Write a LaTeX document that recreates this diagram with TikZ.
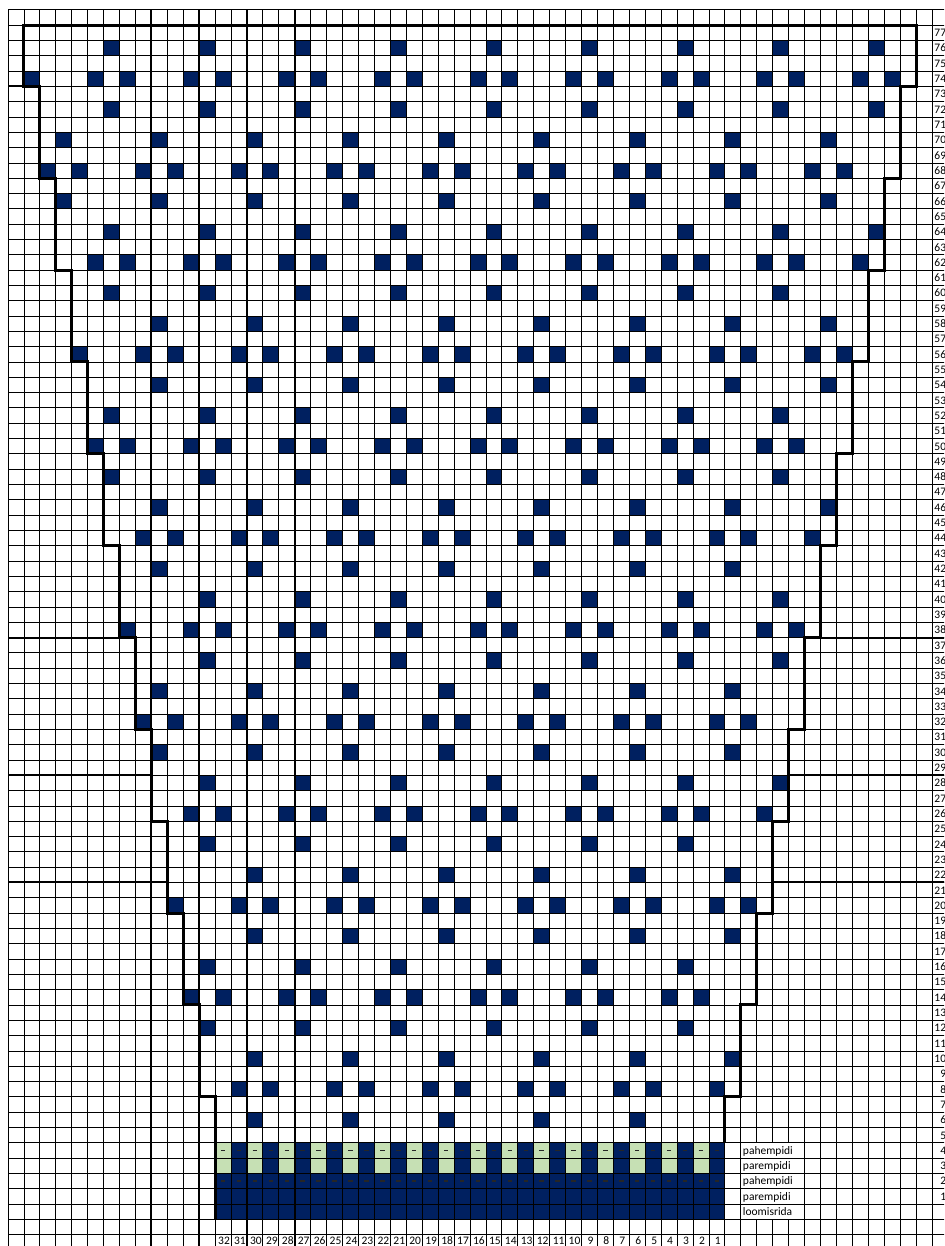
\documentclass[tikz,border=0pt]{standalone}
\usepackage{fontspec}
\setmainfont{Carlito}
\definecolor{navy}{RGB}{0,32,96}
\definecolor{lgreen}{RGB}{198,224,180}
\makeatletter
\def\gridpt@parse#1,#2\@nil{\pgfpointxy{8+15.93*(#1)}{1204-15.31*(#2)}}
\tikzdeclarecoordinatesystem{q}{\gridpt@parse#1\@nil}
\makeatother
\tikzset{
  gridline/.style={black, line width=0.8pt},
  outline/.style={black, line width=3pt, line join=miter},
  thickv/.style={black, line width=1.8pt},
  thickh/.style={black, line width=2pt},
  purl/.style={black!85, line width=1.1pt},
  lbl/.style={font=\fontsize{11.5}{12}\selectfont, inner sep=0pt},
}
\begin{document}
\begin{tikzpicture}[x=1pt,y=-1pt]
\useasboundingbox (0,0) rectangle (944,1246);
\clip (0,0) rectangle (944,1246);
\fill[white] (0,0) rectangle (944,1246);
% pattern cells
\foreach \r in {5,...,77}{
  \pgfmathtruncatemacro\gl{\r<8 ? 13 : 12-floor((\r-8)/6)}
  \pgfmathtruncatemacro\gr{57-\gl}
  \pgfmathtruncatemacro\myR{mod(\r,12)}
  \foreach \g in {\gl,...,\gr}{
    \pgfmathtruncatemacro\myG{mod(\g,6)}
    \pgfmathtruncatemacro\b{((\myR==4 || \myR==0) && \myG==0) || (\myR==2 && (\myG==1 || \myG==5)) || ((\myR==10 || \myR==6) && \myG==3) || (\myR==8 && (\myG==2 || \myG==4))}
    \ifnum\b=1 \fill[navy] (q cs:\g,\r) rectangle (q cs:\g+1,\r-1); \fi
  }
}
% ribbing rows 0-4
\foreach \g in {13,...,44}{
  \fill[navy] (q cs:\g,2) rectangle (q cs:\g+1,-1);
  \pgfmathtruncatemacro\od{mod(\g,2)}
  \ifnum\od=1
    \fill[lgreen] (q cs:\g,4) rectangle (q cs:\g+1,2);
  \else
    \fill[navy] (q cs:\g,4) rectangle (q cs:\g+1,2);
  \fi
  \draw[purl] (q cs:\g+0.36,3.5) -- (q cs:\g+0.64,3.5);
  \draw[purl] (q cs:\g+0.36,1.5) -- (q cs:\g+0.64,1.5);
}
% grid: horizontal lines
\foreach \r in {-2,...,78}{
  \draw[gridline] (q cs:0,\r) -- (q cs:59.5,\r);
}
% grid: vertical lines
\foreach \g in {0,...,46,50,51,...,58}{
  \draw[gridline] (q cs:\g,78) -- (q cs:\g,-3);
}
\foreach \g in {47,48,49}{
  \draw[gridline] (q cs:\g,78) -- (q cs:\g,4);
  \draw[gridline] (q cs:\g,-1) -- (q cs:\g,-3);
}
% thick vertical lines
\foreach \g in {9,12,15,18}{
  \draw[thickv] (q cs:\g,78) -- (q cs:\g,-3);
}
% thick horizontal lines outside the chart
\draw[thickh] (q cs:0,73) -- (q cs:1,73);
\draw[thickh] (q cs:0,37) -- (q cs:7,37);
\draw[thickh] (q cs:51,37) -- (q cs:59.5,37);
\draw[thickh] (q cs:0,28) -- (q cs:9,28);
\draw[thickh] (q cs:49,28) -- (q cs:59.5,28);
\draw[thickh] (q cs:0,21) -- (q cs:10,21);
\draw[thickh] (q cs:48,21) -- (q cs:59.5,21);
% chart outline
\draw[outline] (q cs:13,-1) -- (q cs:13,7) -- (q cs:12,7) -- (q cs:12,13) -- (q cs:11,13)
  -- (q cs:11,19) -- (q cs:10,19) -- (q cs:10,25) -- (q cs:9,25) -- (q cs:9,31)
  -- (q cs:8,31) -- (q cs:8,37) -- (q cs:7,37) -- (q cs:7,43) -- (q cs:6,43)
  -- (q cs:6,49) -- (q cs:5,49) -- (q cs:5,55) -- (q cs:4,55) -- (q cs:4,61)
  -- (q cs:3,61) -- (q cs:3,67) -- (q cs:2,67) -- (q cs:2,73) -- (q cs:1,73)
  -- (q cs:1,77) -- (q cs:57,77) -- (q cs:57,73) -- (q cs:56,73) -- (q cs:56,67)
  -- (q cs:55,67) -- (q cs:55,61) -- (q cs:54,61) -- (q cs:54,55) -- (q cs:53,55)
  -- (q cs:53,49) -- (q cs:52,49) -- (q cs:52,43) -- (q cs:51,43) -- (q cs:51,37)
  -- (q cs:50,37) -- (q cs:50,31) -- (q cs:49,31) -- (q cs:49,25) -- (q cs:48,25)
  -- (q cs:48,19) -- (q cs:47,19) -- (q cs:47,13) -- (q cs:46,13) -- (q cs:46,7)
  -- (q cs:45,7) -- (q cs:45,4);
% row numbers
\foreach \r in {1,...,77}{
  \node[lbl, anchor=base east] (rn\r) at ([yshift=-3.9pt]q cs:58.9,\r-0.5) {\r};
}
% column numbers
\foreach \n in {1,...,32}{
  \pgfmathtruncatemacro\gg{45-\n}
  \node[lbl, anchor=base] (cn\n) at ([xshift=1pt,yshift=-2.1pt]q cs:\gg+0.5,-2.5) {\n};
}
% row texts
\node[lbl, anchor=base west] (t4) at ([xshift=2pt,yshift=-3.9pt]q cs:46,3.5) {pahempidi};
\node[lbl, anchor=base west] (t3) at ([xshift=2pt,yshift=-3.9pt]q cs:46,2.5) {parempidi};
\node[lbl, anchor=base west] (t2) at ([xshift=2pt,yshift=-3.9pt]q cs:46,1.5) {pahempidi};
\node[lbl, anchor=base west] (t1) at ([xshift=2pt,yshift=-3.9pt]q cs:46,0.5) {parempidi};
\node[lbl, anchor=base west] (t0) at ([xshift=2pt,yshift=-3.9pt]q cs:46,-0.5) {loomisrida};
\end{tikzpicture}
\end{document}
